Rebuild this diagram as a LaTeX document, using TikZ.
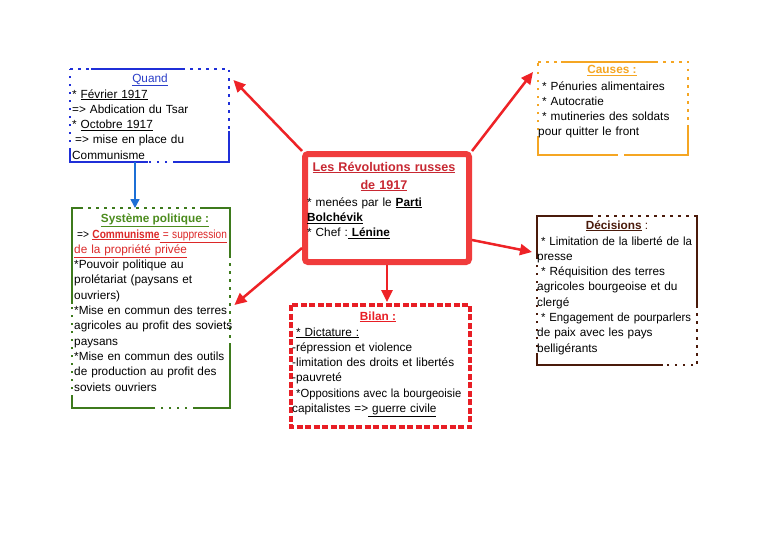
\documentclass[tikz,border=0pt]{standalone}
\usepackage{fontspec}
\usepackage{graphicx}
\setmainfont{Liberation Sans}
\usetikzlibrary{arrows.meta,calc}
\definecolor{qblue}{HTML}{1F2FD8}
\definecolor{qtitle}{HTML}{2A3EC8}
\definecolor{corange}{HTML}{F5A623}
\definecolor{cgreen}{HTML}{3D7A1C}
\definecolor{ctgreen}{HTML}{4C8C1E}
\definecolor{cbrown}{HTML}{4A1A0A}
\definecolor{cred}{HTML}{EE2226}
\definecolor{cframe}{HTML}{F03C3C}
\definecolor{ctitle}{HTML}{C82832}
\definecolor{bred}{HTML}{E81E25}
\definecolor{txtred}{HTML}{DC2828}
\definecolor{barrow}{HTML}{1C6FD6}
\begin{document}
\begin{tikzpicture}[x=1pt,y=-1pt,
  boxn/.style={draw=none,inner sep=0pt,anchor=north west},
  body/.style={anchor=base west,inner sep=0pt,text width=200pt,align=left,font=\fontsize{11.8}{15.3}\selectfont},
  ttl/.style={anchor=base,inner sep=0pt,font=\fontsize{11.8}{15.3}\selectfont},
  sol/.style={line width=2.5pt,line cap=rect},
  dots/.style={line width=2.5pt,dash pattern=on 2.5pt off 5.5pt},
  redarrow/.style={draw=cred,line width=2.5pt,-{Triangle[length=12pt,width=11pt]}},
  bluearrow/.style={draw=barrow,line width=1.5pt,-{Triangle[length=9pt,width=9pt]}}]
\useasboundingbox (0,0) rectangle (768,543);
\fill[white] (0,0) rectangle (768,543);

% ---------- box nodes ----------
\node[boxn,minimum width=159pt,minimum height=93pt] (quand) at (70,69) {};
\node[boxn,minimum width=150pt,minimum height=93pt] (causes) at (538,62) {};
\node[boxn,minimum width=158pt,minimum height=200pt] (syst) at (72,208) {};
\node[boxn,minimum width=160pt,minimum height=149pt] (dec) at (537,216) {};
\node[boxn,minimum width=179pt,minimum height=122pt] (bilan) at (291,305) {};
\node[boxn,draw=cframe,line width=6pt,rounded corners=3pt,fill=white,
      minimum width=164pt,minimum height=108pt] (center) at (302,151) {};

% ---------- Quand border ----------
\draw[qblue,dots] (70,69)--(92,69);
\draw[qblue,sol] (92,69)--(182,69);
\draw[qblue,dots] (182,69)--(229,69)--(229,132);
\draw[qblue,sol] (229,132)--(229,162)--(175,162);
\draw[qblue,dots] (175,162)--(147,162);
\draw[qblue,sol] (147,162)--(70,162)--(70,150);
\draw[qblue,dots] (70,150)--(70,69);

% ---------- Causes border ----------
\draw[corange,dots] (538,62)--(562,62);
\draw[corange,sol] (562,62)--(655,62);
\draw[corange,dots] (655,62)--(688,62)--(688,128);
\draw[corange,sol] (688,128)--(688,155)--(625,155);
\draw[corange,sol] (617,155)--(538,155)--(538,138);
\draw[corange,dots] (538,138)--(538,62);

% ---------- Systeme border ----------
\draw[cgreen,sol] (72,303)--(72,208)--(80,208);
\draw[cgreen,dots] (80,208)--(203,208);
\draw[cgreen,sol] (203,208)--(230,208)--(230,255);
\draw[cgreen,dots] (230,255)--(230,347);
\draw[cgreen,sol] (230,347)--(230,408)--(195,408);
\draw[cgreen,dots] (195,408)--(153,408);
\draw[cgreen,sol] (153,408)--(72,408)--(72,397);
\draw[cgreen,dots] (72,397)--(72,303);

% ---------- Decisions border ----------
\draw[cbrown,sol] (537,258)--(537,216)--(590,216);
\draw[cbrown,dots] (590,216)--(697,216);
\draw[cbrown,sol] (697,216)--(697,305);
\draw[cbrown,dots] (697,305)--(697,365)--(662,365);
\draw[cbrown,sol] (662,365)--(537,365)--(537,355);
\draw[cbrown,dots] (537,355)--(537,258);

% ---------- Bilan border ----------
\draw[bred,line width=4pt,dash pattern=on 6pt off 2.5pt] (291,305) rectangle (470,427);

% ---------- connectors ----------
\draw[redarrow] (center.north west) -- ($(quand.north east)+(4,11)$);
\draw[redarrow] (center.north east) -- ($(causes.north west)+(-5,10)$);
\draw[redarrow] ($(center.south east)+(0,-25)$) -- ($(dec.north west)+(-5,36)$);
\draw[redarrow] (center.south) -- ($(center.south |- bilan.north)+(0,-3)$);
\draw[redarrow] ($(center.south west)+(0,-17)$) -- ($(syst.north east)+(4,97)$);
\draw[bluearrow] ($(quand.south west)+(65,0)$) -- ($(syst.north west)+(63,0)$);

% ---------- texts ----------
\node[ttl,text=qtitle] (quandt) at (150,82) {\underline{Quand}};
\node[body] (quandb) at (72,98) {{}* \underline{Février 1917}\\
{}=> Abdication du Tsar\\
{}* \underline{Octobre 1917}\\
\hspace*{3pt}=> mise en place du\\
{}Communisme};

\node[ttl] (causest) at (612,74) {\textcolor{corange}{\bfseries\underline{Causes :}}};
\node[body] (causesb) at (538,90) {\hspace*{4pt}* Pénuries alimentaires\\
\hspace*{4pt}* Autocratie\\
\hspace*{4pt}* mutineries des soldats\\
{}pour quitter le front};

\node[anchor=base,inner sep=0pt,text width=180pt,align=center,
      font=\fontsize{12.6}{18}\selectfont\bfseries,text=ctitle] (centert) at (384,171)
      {\underline{Les Révolutions russes}\\\underline{de 1917}};
\node[body] (centerb) at (307,206) {{}* menées par le \textbf{\underline{Parti}}\\
{}\textbf{\underline{Bolchévik}}\\
{}* Chef :\underline{\textbf{~Lénine}}};

\node[ttl] (systt) at (155,222) {\textcolor{ctgreen}{\bfseries\underline{Système politique :}}};
\node[body] (systb) at (74,238) {\hspace*{3pt}\scalebox{0.86}[1]{=> \textcolor{txtred}{\underline{\textbf{Communisme}}\underline{ = suppression}}}\\
{}\textcolor{txtred}{\underline{de la propriété privée}}\\
{}*Pouvoir politique au\\
{}prolétariat (paysans et\\
{}ouvriers)\\
{}*Mise en commun des terres\\
{}agricoles au profit des soviets\\
{}paysans\\
{}*Mise en commun des outils\\
{}de production au profit des\\
{}soviets ouvriers};

\node[ttl] (dect) at (617,229) {\textcolor{cbrown}{\bfseries\underline{Décisions}} \textcolor{cbrown}{:}};
\node[body] (decb) at (537,245) {\hspace*{4pt}\scalebox{0.97}[1]{* Limitation de la liberté de la}\\
{}presse\\
\hspace*{4pt}* Réquisition des terres\\
{}agricoles bourgeoise et du\\
{}clergé\\
\hspace*{4pt}\scalebox{0.96}[1]{* Engagement de pourparlers}\\
{}de paix avec les pays\\
{}belligérants};

\node[ttl] (bilant) at (378,320) {\textcolor{bred}{\bfseries\underline{Bilan :}}};
\node[body] (bilanb) at (292,336) {\hspace*{4pt}\underline{* Dictature :}\\
{}-répression et violence\\
{}-limitation des droits et libertés\\
{}-pauvreté\\
\hspace*{4pt}\scalebox{0.95}[1]{*Oppositions avec la bourgeoisie}\\
{}capitalistes =>\underline{ guerre civile}};
\end{tikzpicture}
\end{document}
